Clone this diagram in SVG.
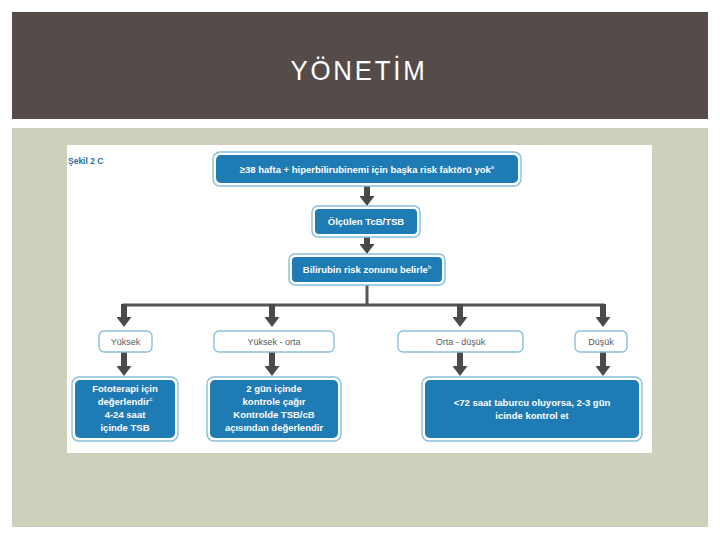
<svg xmlns="http://www.w3.org/2000/svg" width="720" height="540" viewBox="0 0 720 540">
<style>
.hdr{fill:#554B48}
.panel{fill:#CDD1BC}
.bo{fill:#fff;stroke:#86BEDD;stroke-width:1.4}
.bi{fill:#1F7BB4}
.wb{fill:#fff;stroke:#8CBFDC;stroke-width:1.4}
.tw{font-family:"Liberation Sans",Arial,sans-serif;font-size:9.5px;font-weight:bold;fill:#fff;text-anchor:middle}
.tg{font-family:"Liberation Sans",Arial,sans-serif;font-size:9px;fill:#5a5a5a;text-anchor:middle}
.sup{font-size:6px;font-weight:normal}
.stem{stroke:#4A4A4A;stroke-width:6;fill:none}
.bus{stroke:#555;stroke-width:3;fill:none}
</style>
<defs>
<marker id="ah" markerUnits="userSpaceOnUse" markerWidth="10" markerHeight="15" refX="0" refY="7.5" orient="auto" viewBox="0 0 10 15">
<path d="M0,0 L10,7.5 L0,15 Z" fill="#4A4A4A"/>
</marker>
</defs>
<rect width="720" height="540" fill="#fff"/>
<rect class="hdr" x="12" y="12" width="696" height="107"/>
<text x="359" y="80" font-family="'Liberation Sans',Arial,sans-serif" font-size="28" fill="#fff" text-anchor="middle" letter-spacing="3" textLength="137" lengthAdjust="spacingAndGlyphs">YÖNETİM</text>
<rect class="panel" x="12" y="128" width="696" height="399"/>
<rect x="67" y="145" width="585" height="308" fill="#fff"/>
<text x="68" y="164" font-family="'Liberation Sans',Arial,sans-serif" font-size="8.5" font-weight="bold" fill="#2B6E9E">Şekil 2 C</text>

<g id="connectors">
<path class="stem" d="M367,186 V196" marker-end="url(#ah)"/>
<path class="stem" d="M367,237 V244" marker-end="url(#ah)"/>
<path class="bus" d="M367,285 V305 M122.5,305 H604.5"/>
<path class="stem" d="M124,304 V317" marker-end="url(#ah)"/>
<path class="stem" d="M272,304 V317" marker-end="url(#ah)"/>
<path class="stem" d="M460,304 V317" marker-end="url(#ah)"/>
<path class="stem" d="M603,304 V317" marker-end="url(#ah)"/>
<path class="stem" d="M124,352 V366" marker-end="url(#ah)"/>
<path class="stem" d="M272,352 V366" marker-end="url(#ah)"/>
<path class="stem" d="M460,352 V366" marker-end="url(#ah)"/>
<path class="stem" d="M603,352 V366" marker-end="url(#ah)"/>
</g>

<g id="n1">
<rect class="bo" x="213" y="152" width="308" height="34" rx="7"/>
<rect class="bi" x="216" y="155" width="302" height="28" rx="5"/>
<text class="tw" x="367" y="173">≥38 hafta + hiperbilirubinemi için başka risk faktörü yok<tspan class="sup" dy="-4">a</tspan></text>
</g>
<g id="n2">
<rect class="bo" x="312" y="206" width="108" height="31" rx="6"/>
<rect class="bi" x="315" y="209" width="102" height="25" rx="4"/>
<text class="tw" x="366" y="225">Ölçülen TcB/TSB</text>
</g>
<g id="n3">
<rect class="bo" x="289" y="254" width="156" height="31" rx="6"/>
<rect class="bi" x="292" y="257" width="150" height="25" rx="4"/>
<text class="tw" x="367" y="273">Bilirubin risk zonunu belirle<tspan class="sup" dy="-4">b</tspan></text>
</g>

<g id="z1">
<rect class="wb" x="99" y="331" width="53" height="21" rx="5"/>
<text class="tg" x="125.5" y="345">Yüksek</text>
</g>
<g id="z2">
<rect class="wb" x="214" y="331" width="120" height="21" rx="5"/>
<text class="tg" x="274" y="345">Yüksek - orta</text>
</g>
<g id="z3">
<rect class="wb" x="398" y="331" width="125" height="21" rx="5"/>
<text class="tg" x="460.5" y="345">Orta - düşük</text>
</g>
<g id="z4">
<rect class="wb" x="575" y="331" width="52" height="21" rx="5"/>
<text class="tg" x="601" y="345">Düşük</text>
</g>

<g id="b1">
<rect class="bo" x="72" y="377" width="106" height="64" rx="7"/>
<rect class="bi" x="75" y="380" width="100" height="58" rx="5"/>
<text class="tw" x="125" y="392">Fototerapi için</text>
<text class="tw" x="125" y="405">değerlendir<tspan class="sup" dy="-4">c</tspan></text>
<text class="tw" x="125" y="418">4-24 saat</text>
<text class="tw" x="125" y="431">içinde TSB</text>
</g>
<g id="b2">
<rect class="bo" x="207" y="377" width="134" height="64" rx="7"/>
<rect class="bi" x="210" y="380" width="128" height="58" rx="5"/>
<text class="tw" x="274" y="392">2 gün içinde</text>
<text class="tw" x="274" y="405">kontrole çağır</text>
<text class="tw" x="274" y="418">Kontrolde TSB/cB</text>
<text class="tw" x="274" y="431">açısından değerlendir</text>
</g>
<g id="b3">
<rect class="bo" x="422" y="377" width="220" height="64" rx="7"/>
<rect class="bi" x="425" y="380" width="214" height="58" rx="5"/>
<text class="tw" x="532" y="406">&lt;72 saat taburcu oluyorsa, 2-3 gün</text>
<text class="tw" x="532" y="419">icinde kontrol et</text>
</g>
</svg>
